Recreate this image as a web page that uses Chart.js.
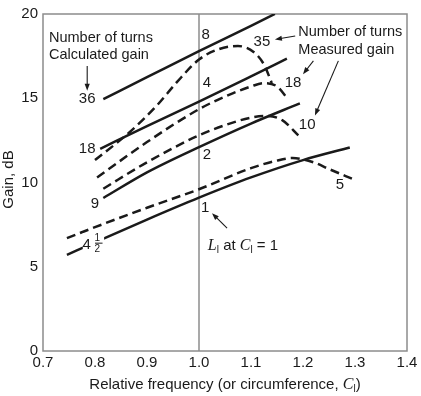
<!DOCTYPE html>
<html>
<head>
<meta charset="utf-8">
<script src="https://cdn.jsdelivr.net/npm/chart.js@4.4.0/dist/chart.umd.min.js"></script>
<style>
  html, body { margin: 0; padding: 0; background: #fff; }
</style>
</head>
<body>
<canvas id="chart" width="421" height="396"></canvas>
<script>
// calculated gain (solid lines), by number of turns
const freqCalc36 = [0.816, 0.9, 1.0, 1.1, 1.146];
const gainCalc36 = [14.95, 16.25, 17.8, 19.3, 20.0];
const freqCalc18 = [0.81, 0.9, 1.0, 1.1, 1.169];
const gainCalc18 = [12.0, 13.35, 14.8, 16.3, 17.35];
const freqCalc9 = [0.816, 0.9, 1.0, 1.1, 1.194];
const gainCalc9 = [9.08, 10.6, 12.1, 13.5, 14.7];
const freqCalc4h = [0.746, 0.8, 0.9, 1.0, 1.1, 1.2, 1.29];
const gainCalc4h = [5.7, 6.45, 7.8, 9.1, 10.3, 11.33, 12.08];

// measured gain (dashed lines)
const freqMeas35 = [0.8, 0.867, 0.919, 0.957, 1.0, 1.037, 1.075, 1.105, 1.125, 1.14];
const gainMeas35 = [11.33, 13.0, 14.57, 15.94, 17.3, 17.9, 18.1, 17.75, 17.0, 15.9];
const freqMeas18 = [0.804, 0.9, 1.0, 1.05, 1.1, 1.125, 1.15, 1.171];
const gainMeas18 = [10.3, 12.4, 14.35, 15.1, 15.7, 15.9, 15.7, 14.95];
const freqMeas10 = [0.816, 0.9, 1.0, 1.05, 1.1, 1.13, 1.16, 1.191];
const gainMeas10 = [9.63, 11.2, 12.8, 13.4, 13.85, 13.95, 13.7, 12.8];
const freqMeas5 = [0.746, 0.8, 0.9, 1.0, 1.1, 1.15, 1.18, 1.22, 1.25, 1.296];
const gainMeas5 = [6.7, 7.35, 8.5, 9.6, 10.85, 11.3, 11.45, 11.2, 10.8, 10.2];

const xTicks = [0.7, 0.8, 0.9, 1.0, 1.1, 1.2, 1.3, 1.4];
const yTicks = [0, 5, 10, 15, 20];

// curve labels: [text, freq, gain]
const curveLabels = [
  ['36', 0.785, 14.95], ['18', 0.785, 12.0], ['9', 0.8, 8.76],
  ['8', 1.013, 18.76], ['4', 1.015, 15.94], ['2', 1.015, 11.65], ['1', 1.012, 8.47],
  ['35', 1.121, 18.35], ['18', 1.181, 15.94], ['10', 1.208, 13.41], ['5', 1.271, 9.88]
];
// arrows: [fromFreq, fromGain, toFreq, toGain]
const arrows = [
  [0.785, 16.92, 0.785, 15.45],
  [1.185, 18.69, 1.146, 18.49],
  [1.22, 17.22, 1.2, 16.43],
  [1.268, 17.22, 1.223, 13.98],
  [1.054, 7.29, 1.025, 8.18]
];

const pts = (xs, ys) => xs.map((v, i) => ({ x: v, y: ys[i] }));

const SANS = "'Liberation Sans', Arial, sans-serif";
const SERIF = "'Liberation Serif', 'Times New Roman', serif";
const INK = '#1a1a1a';

function solid(data) {
  return { data, borderColor: INK, borderWidth: 2.5, pointRadius: 0, cubicInterpolationMode: 'monotone' };
}
function dashed(data) {
  return { data, borderColor: INK, borderWidth: 2.5, pointRadius: 0, borderDash: [9, 5], cubicInterpolationMode: 'monotone' };
}

// draw a row of text pieces: [text, font, dy]
function drawRuns(ctx, runs, x, y, align) {
  let w = 0;
  runs.forEach(r => { ctx.font = r[1]; w += ctx.measureText(r[0]).width; });
  let cx = align === 'center' ? x - w / 2 : x;
  ctx.textAlign = 'left';
  runs.forEach(r => {
    ctx.font = r[1];
    ctx.fillText(r[0], cx, y + (r[2] || 0));
    cx += ctx.measureText(r[0]).width;
  });
}

function arrow(ctx, x1, y1, x2, y2) {
  const ang = Math.atan2(y2 - y1, x2 - x1);
  const hl = 7, hw = 2.6;
  ctx.beginPath();
  ctx.moveTo(x1, y1);
  ctx.lineTo(x2 - Math.cos(ang) * hl * 0.8, y2 - Math.sin(ang) * hl * 0.8);
  ctx.stroke();
  ctx.beginPath();
  ctx.moveTo(x2, y2);
  ctx.lineTo(x2 - Math.cos(ang) * hl - Math.sin(ang) * hw, y2 - Math.sin(ang) * hl + Math.cos(ang) * hw);
  ctx.lineTo(x2 - Math.cos(ang) * hl + Math.sin(ang) * hw, y2 - Math.sin(ang) * hl - Math.cos(ang) * hw);
  ctx.closePath();
  ctx.fill();
}

const frame = {
  id: 'frame',
  beforeDatasetsDraw(chart) {
    const { ctx, chartArea: a, scales: { x } } = chart;
    ctx.save();
    ctx.strokeStyle = '#8c8c8c';
    ctx.lineWidth = 1.5;
    ctx.strokeRect(a.left, a.top, a.right - a.left, a.bottom - a.top);
    ctx.beginPath();
    ctx.moveTo(x.getPixelForValue(1.0), a.top);
    ctx.lineTo(x.getPixelForValue(1.0), a.bottom);
    ctx.stroke();
    ctx.restore();
  }
};

const notes = {
  id: 'notes',
  afterDraw(chart) {
    const { ctx, chartArea: a, scales: { x, y } } = chart;
    const px = v => x.getPixelForValue(v), py = v => y.getPixelForValue(v);
    ctx.save();
    ctx.fillStyle = INK;
    ctx.strokeStyle = INK;
    ctx.textBaseline = 'middle';

    ctx.font = '15px ' + SANS;
    ctx.textAlign = 'center';
    curveLabels.forEach(l => ctx.fillText(l[0], px(l[1]), py(l[2])));

    // 4 1/2, knocked out of the line behind it
    ctx.fillStyle = '#fff';
    ctx.fillRect(px(0.7765), py(7.0), px(0.8175) - px(0.7765), py(5.7) - py(7.0));
    ctx.fillStyle = INK;
    ctx.font = '15px ' + SANS;
    ctx.fillText('4', px(0.784), py(6.29));
    ctx.font = '10px ' + SANS;
    ctx.fillText('1', px(0.8045), py(6.69));
    ctx.fillText('2', px(0.8045), py(6.02));
    ctx.lineWidth = 1;
    ctx.beginPath();
    ctx.moveTo(px(0.8), py(6.4));
    ctx.lineTo(px(0.8145), py(6.4));
    ctx.stroke();

    // text blocks
    ctx.font = '14.5px ' + SANS;
    ctx.textAlign = 'left';
    ctx.fillText('Number of turns', px(0.7115), py(18.59));
    ctx.fillText('Calculated gain', px(0.7115), py(17.56));
    ctx.fillText('Number of turns', px(1.191), py(18.94));
    ctx.fillText('Measured gain', px(1.191), py(17.88));

    ctx.lineWidth = 1.1;
    arrows.forEach(r => arrow(ctx, px(r[0]), py(r[1]), px(r[2]), py(r[3])));

    // L1 at C1 = 1
    ctx.textBaseline = 'alphabetic';
    drawRuns(ctx, [
      ['L', 'italic 16px ' + SERIF],
      ['l', '10px ' + SANS, 3],
      [' at ', '15px ' + SANS],
      ['C', 'italic 16px ' + SERIF],
      ['l', '10px ' + SANS, 3],
      [' = 1', '15px ' + SANS]
    ], px(1.017), py(6.0), 'left');

    // axis titles
    drawRuns(ctx, [
      ['Relative frequency (or circumference, ', '15px ' + SANS],
      ['C', 'italic 16px ' + SERIF],
      ['l', '10px ' + SANS, 3],
      [')', '15px ' + SANS]
    ], (a.left + a.right) / 2, 389, 'center');

    ctx.translate(9, (a.top + a.bottom) / 2 - 3);
    ctx.rotate(-Math.PI / 2);
    ctx.textAlign = 'center';
    ctx.textBaseline = 'middle';
    ctx.font = '15px ' + SANS;
    ctx.fillText('Gain, dB', 0, 0);
    ctx.restore();
  }
};

new Chart(document.getElementById('chart'), {
  type: 'line',
  data: {
    datasets: [
      solid(pts(freqCalc36, gainCalc36)),
      solid(pts(freqCalc18, gainCalc18)),
      solid(pts(freqCalc9, gainCalc9)),
      solid(pts(freqCalc4h, gainCalc4h)),
      dashed(pts(freqMeas35, gainMeas35)),
      dashed(pts(freqMeas18, gainMeas18)),
      dashed(pts(freqMeas10, gainMeas10)),
      dashed(pts(freqMeas5, gainMeas5))
    ]
  },
  options: {
    responsive: false,
    animation: false,
    layout: { padding: { top: 11, right: 14, left: 0, bottom: 0 } },
    plugins: { legend: { display: false }, tooltip: { enabled: false } },
    scales: {
      x: {
        type: 'linear', min: 0.7, max: 1.4,
        grid: { display: false, drawTicks: false },
        border: { display: false },
        afterBuildTicks: s => { s.ticks = xTicks.map(v => ({ value: v })); },
        afterFit: s => { s.height = 45; },
        ticks: { padding: 3, autoSkip: false, maxRotation: 0, color: INK,
          font: { family: SANS, size: 15 }, callback: v => Number(v).toFixed(1) }
      },
      y: {
        min: 0, max: 20,
        grid: { display: false, drawTicks: false },
        border: { display: false },
        afterBuildTicks: s => { s.ticks = yTicks.map(v => ({ value: v })); },
        afterFit: s => { s.width = 43; },
        ticks: { padding: 5, color: INK, font: { family: SANS, size: 15 }, callback: v => String(v) }
      }
    }
  },
  plugins: [frame, notes]
});
</script>
</body>
</html>
